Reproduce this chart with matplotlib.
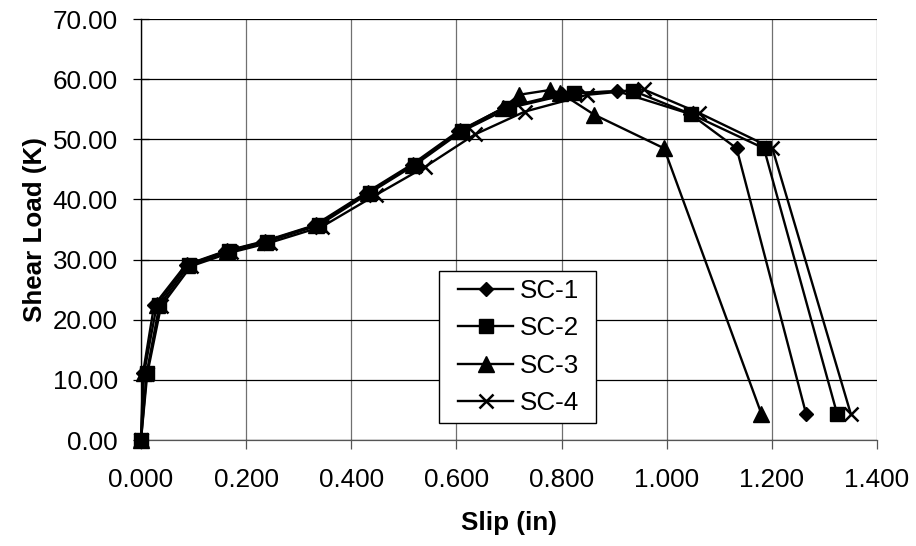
"""Shear load vs slip for push-out specimens SC-1..SC-4 (Excel-style chart)."""
import matplotlib
matplotlib.use("Agg")
import matplotlib.pyplot as plt
from matplotlib.patches import Rectangle
from matplotlib.ticker import FormatStrFormatter, MultipleLocator

# slip (in) / shear load (K)
sc1_slip = [0.000, 0.004, 0.025, 0.085, 0.160, 0.232, 0.330, 0.428, 0.515, 0.603,
            0.690, 0.800, 0.906, 1.045, 1.133, 1.265]
sc1_load = [0.0, 11.2, 22.4, 29.1, 31.4, 33.0, 35.7, 41.1, 45.8, 51.3,
            55.2, 57.5, 58.0, 54.2, 48.5, 4.4]

sc2_slip = [0.000, 0.011, 0.035, 0.092, 0.168, 0.240, 0.338, 0.435, 0.522, 0.610,
            0.700, 0.823, 0.935, 1.046, 1.185, 1.324]
sc2_load = [0.0, 11.2, 22.4, 29.1, 31.4, 33.0, 35.7, 41.1, 45.8, 51.3,
            55.2, 57.7, 58.1, 54.2, 48.5, 4.4]

sc3_slip = [0.000, 0.006, 0.030, 0.088, 0.163, 0.236, 0.333, 0.431, 0.518, 0.606,
            0.689, 0.719, 0.778, 0.798, 0.862, 0.995, 1.180]
sc3_load = [0.0, 11.2, 22.4, 29.1, 31.4, 33.0, 35.7, 41.1, 45.8, 51.3,
            55.2, 57.4, 58.2, 57.7, 54.1, 48.5, 4.4]

sc4_slip = [0.000, 0.012, 0.038, 0.095, 0.172, 0.245, 0.345, 0.448, 0.540, 0.635,
            0.730, 0.849, 0.956, 1.061, 1.201, 1.350]
sc4_load = [0.0, 11.0, 22.2, 28.9, 31.2, 32.8, 35.5, 40.8, 45.4, 50.8,
            54.6, 57.4, 58.3, 54.4, 48.5, 4.4]

SERIES = [
    ("SC-1", sc1_slip, sc1_load, "D", 7.5),
    ("SC-2", sc2_slip, sc2_load, "s", 9.5),
    ("SC-3", sc3_slip, sc3_load, "^", 11),
    ("SC-4", sc4_slip, sc4_load, "x", 10),
]

FS = 18.7

plt.rcParams["font.family"] = ["Liberation Sans", "DejaVu Sans"]


def main():
    fig = plt.figure(figsize=(9.16, 5.46), dpi=100)
    ax = fig.add_axes([0.1539, 0.1941, 0.8035, 0.7711])

    for name, xs, ys, mk, ms in SERIES:
        ax.plot(xs, ys, color="black", lw=1.7, marker=mk, markersize=ms,
                markerfacecolor="black", markeredgecolor="black",
                markeredgewidth=1.8 if mk == "x" else 1.0, label=name,
                clip_on=False, zorder=3)

    ax.set_xlim(0, 1.4)
    ax.set_ylim(0, 70)
    ax.xaxis.set_major_locator(MultipleLocator(0.2))
    ax.yaxis.set_major_locator(MultipleLocator(10))
    ax.xaxis.set_major_formatter(FormatStrFormatter("%.3f"))
    ax.yaxis.set_major_formatter(FormatStrFormatter("%.2f"))

    ax.set_axisbelow(True)
    ax.yaxis.grid(True, color="black", lw=0.9)
    ax.xaxis.grid(True, color="#707070", lw=0.9)

    for side in ("top", "right"):
        ax.spines[side].set_visible(False)
    ax.spines["left"].set_color("black")
    ax.spines["left"].set_linewidth(1.0)
    ax.spines["bottom"].set_color("#555555")
    ax.spines["bottom"].set_linewidth(0.9)

    ax.tick_params(axis="y", direction="inout", length=11.5, width=0.9,
                   pad=11, labelsize=FS)
    ax.tick_params(axis="x", direction="out", length=6.5, width=0.9,
                   color="#555555", pad=14, labelsize=FS)

    ax.set_xlabel("Slip (in)", fontsize=FS, fontweight="bold", labelpad=13)
    ax.set_ylabel("Shear Load (K)", fontsize=FS, fontweight="bold", labelpad=4)

    # Excel legend box: square frame with generous padding
    ax.add_patch(Rectangle((0.4053, 0.0397), 0.2129, 0.3624,
                           transform=ax.transAxes, facecolor="white",
                           edgecolor="black", lw=1.0, zorder=4))
    ax.legend(loc="center left", bbox_to_anchor=(0.4307, 0.2209),
              fontsize=FS, frameon=False, handlelength=2.12,
              handletextpad=0.27, labelspacing=0.51, borderpad=0,
              borderaxespad=0).set_zorder(5)

    fig.savefig("out.png", dpi=100)
    plt.close(fig)


if __name__ == "__main__":
    main()
